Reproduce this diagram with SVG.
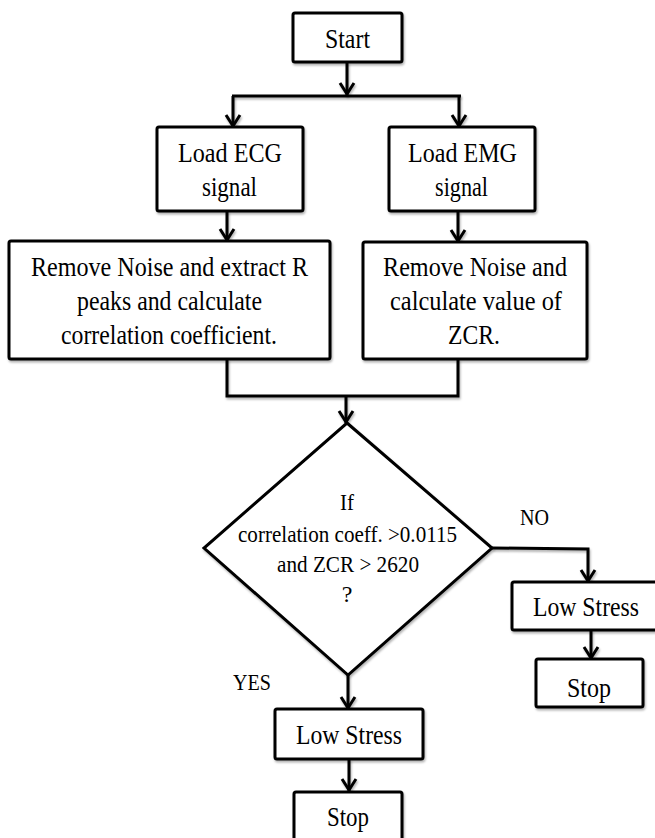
<svg xmlns="http://www.w3.org/2000/svg" width="655" height="838" viewBox="0 0 655 838" font-family="'Liberation Serif', 'Times New Roman', serif">
<style>
.box{fill:#fff;stroke:#000;stroke-width:3;filter:url(#sh)}
.ln{fill:none;stroke:#000;stroke-width:3;filter:url(#sh)}
.arr{marker-end:url(#ah)}
text{fill:#000;text-anchor:middle;font-size:27px}
.d{font-size:24px}
.lbl{font-size:23px}
</style>
<defs>
<filter id="sh" filterUnits="userSpaceOnUse" x="0" y="0" width="655" height="838">
<feDropShadow dx="1" dy="2" stdDeviation="1.2" flood-color="#000" flood-opacity="0.3"/>
</filter>
<marker id="ah" markerUnits="userSpaceOnUse" markerWidth="24" markerHeight="24" viewBox="-16 -12 24 24" refX="0" refY="0" orient="auto">
<path d="M-12,-7 L-1,0 L-12,7" fill="none" stroke="#000" stroke-width="3" stroke-linejoin="miter"/>
</marker>
</defs>
<rect width="655" height="838" fill="#fff"/>

<g id="connectors">
<line class="ln arr" x1="347" y1="62" x2="347" y2="95"/>
<line class="ln" x1="232" y1="96" x2="461" y2="96"/>
<line class="ln arr" x1="233" y1="96" x2="233" y2="127"/>
<line class="ln arr" x1="459" y1="96" x2="459" y2="127"/>
<line class="ln arr" x1="227" y1="211" x2="227" y2="241"/>
<line class="ln arr" x1="458" y1="211" x2="458" y2="242"/>
<polyline class="ln" points="227,359 227,396 458,396 458,359"/>
<line class="ln arr" x1="346" y1="396" x2="346" y2="423"/>
<polyline class="ln arr" points="492,548 588,549 588,582"/>
<line class="ln arr" x1="348" y1="675" x2="348" y2="709"/>
<line class="ln arr" x1="591" y1="630" x2="591" y2="659"/>
<line class="ln arr" x1="349" y1="759" x2="349" y2="791"/>
</g>

<g id="start">
<rect class="box" x="293" y="13" width="109" height="49" rx="2"/>
<text x="347.5" y="48" textLength="45" lengthAdjust="spacingAndGlyphs">Start</text>
</g>

<g id="load-ecg">
<rect class="box" x="157" y="127" width="146" height="84" rx="2"/>
<text x="230" y="162" textLength="104" lengthAdjust="spacingAndGlyphs">Load ECG</text>
<text x="229.5" y="196" textLength="55" lengthAdjust="spacingAndGlyphs">signal</text>
</g>

<g id="load-emg">
<rect class="box" x="389" y="127" width="146" height="84" rx="2"/>
<text x="462.5" y="162" textLength="109" lengthAdjust="spacingAndGlyphs">Load EMG</text>
<text x="461.5" y="196" textLength="53" lengthAdjust="spacingAndGlyphs">signal</text>
</g>

<g id="process-ecg">
<rect class="box" x="9" y="241" width="321" height="118" rx="2"/>
<text x="169.5" y="276" textLength="277" lengthAdjust="spacingAndGlyphs">Remove Noise and extract R</text>
<text x="169.5" y="310" textLength="185" lengthAdjust="spacingAndGlyphs">peaks and calculate</text>
<text x="169" y="344" textLength="216" lengthAdjust="spacingAndGlyphs">correlation coefficient.</text>
</g>

<g id="process-emg">
<rect class="box" x="363" y="242" width="224" height="117" rx="2"/>
<text x="475" y="276" textLength="184" lengthAdjust="spacingAndGlyphs">Remove Noise and</text>
<text x="476" y="310" textLength="172" lengthAdjust="spacingAndGlyphs">calculate value of</text>
<text x="474" y="344" textLength="52" lengthAdjust="spacingAndGlyphs">ZCR.</text>
</g>

<g id="decision">
<polygon class="box" points="347,423 492,548 348,675 204,548"/>
<text class="d" x="347" y="510" textLength="14" lengthAdjust="spacingAndGlyphs">If</text>
<text class="d" x="347.5" y="542" textLength="219" lengthAdjust="spacingAndGlyphs">correlation coeff. &gt;0.0115</text>
<text class="d" x="348" y="572" textLength="142" lengthAdjust="spacingAndGlyphs">and ZCR &gt; 2620</text>
<text class="d" x="347" y="602">?</text>
</g>

<g id="label-no">
<text class="lbl" x="534.5" y="525" textLength="29" lengthAdjust="spacingAndGlyphs">NO</text>
</g>
<g id="label-yes">
<text class="lbl" x="252" y="690" textLength="38" lengthAdjust="spacingAndGlyphs">YES</text>
</g>

<g id="low-stress-no">
<rect class="box" x="512" y="582" width="145" height="48" rx="2"/>
<text x="586" y="616" textLength="106" lengthAdjust="spacingAndGlyphs">Low Stress</text>
</g>

<g id="stop-no">
<rect class="box" x="536" y="659" width="107" height="48" rx="2"/>
<text x="589" y="697" textLength="44" lengthAdjust="spacingAndGlyphs">Stop</text>
</g>

<g id="low-stress-yes">
<rect class="box" x="275" y="709" width="148" height="50" rx="2"/>
<text x="349" y="744" textLength="106" lengthAdjust="spacingAndGlyphs">Low Stress</text>
</g>

<g id="stop-yes">
<rect class="box" x="294" y="792" width="108" height="60" rx="2"/>
<text x="348" y="826" textLength="42" lengthAdjust="spacingAndGlyphs">Stop</text>
</g>
</svg>
